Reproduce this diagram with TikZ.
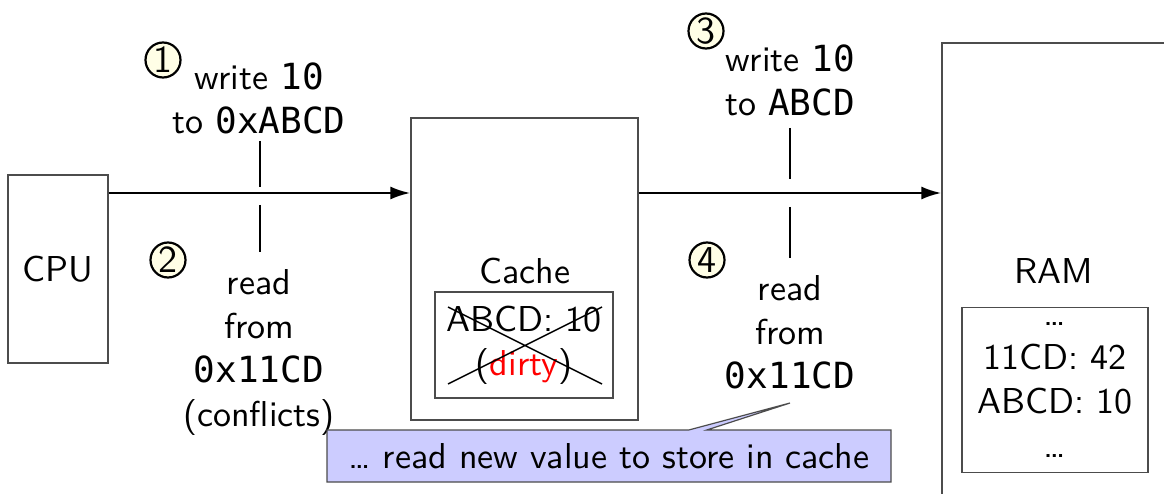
\documentclass[tikz,border=0pt]{standalone}
\usepackage{fontspec}
\setsansfont{lmsans10-regular.otf}
\setmonofont{DejaVu Sans Mono}
\usetikzlibrary{arrows.meta,shapes.callouts}
\tikzset{
  unit/.style={draw=black!70, line width=1.2pt},
  num/.style={circle, draw, line width=2.2pt, fill=yellow!10, inner sep=0pt,
    minimum size=35pt, font=\sffamily\fontsize{38}{38}\selectfont},
  lbl/.style={align=center, inner sep=0pt}
}
\begin{document}
\begin{tikzpicture}[x=1pt, y=-1pt, font=\sffamily\fontsize{36}{44}\selectfont]
  \useasboundingbox (0,0) rectangle (1164,494);
  \clip (0,0) rectangle (1164,494);
  \draw
    (58,269) node[unit, minimum width=100pt, minimum height=188pt] (cpu){CPU}
    (524.5,269) node[unit, minimum width=227pt, minimum height=302pt] (cache){}
    (1061,276) node[unit, minimum width=238pt, minimum height=466pt] (ram){};
  \coordinate (bus) at (0,193);
  \node at (525,271) (cachename){Cache};
  \node[unit, lbl, minimum width=178pt, minimum height=106pt] at (524,345) (line)
    {ABCD: 10\\(\textcolor{red}{dirty})};
  \draw[line width=1.4pt] (448,307) -- (602,384) (448,384) -- (602,307);
  \node at (1054,271) (ramname){RAM};
  \node[unit, lbl, minimum width=186pt, minimum height=165pt] at (1055,390) (mem)
    {\ldots\\11CD: 42\\ABCD: 10\\\ldots};
  \begin{scope}[-{Latex[length=20pt,width=13pt]}, line width=2.6pt]
    \draw (cpu.east |- bus) to (cache.west |- bus);
    \draw (cache.east |- bus) to (ram.west |- bus);
  \end{scope}
  \node[lbl] at (259,98) (w1){write \texttt{10}\\to \texttt{0xABCD}};
  \node[lbl] at (259,353) (r1){read\\from\\\texttt{0x11CD}\\(conflicts)};
  \node[lbl] at (790,80) (w2){write \texttt{10}\\to \texttt{ABCD}};
  \node[lbl] at (790,332) (r2){read\\from\\\texttt{0x11CD}};
  \draw[line width=1.4pt] (260,141) -- (260,187) (260,205) -- (260,252);
  \draw[line width=1.4pt] (790,128) -- (790,179) (790,207) -- (790,258);
  \node[num] at (163,60) (n1){1};
  \node[num] at (168,260) (n2){2};
  \node[num] at (706,31) (n3){3};
  \node[num] at (707,260) (n4){4};
  \node[rectangle callout, draw=black!70, line width=1.2pt, fill=blue!20,
    minimum width=564pt, minimum height=52pt, inner sep=0pt,
    callout absolute pointer={(790,403)}, callout pointer width=18pt]
    at (609,456) (note){\ldots{} read new value to store in cache};
\end{tikzpicture}
\end{document}
